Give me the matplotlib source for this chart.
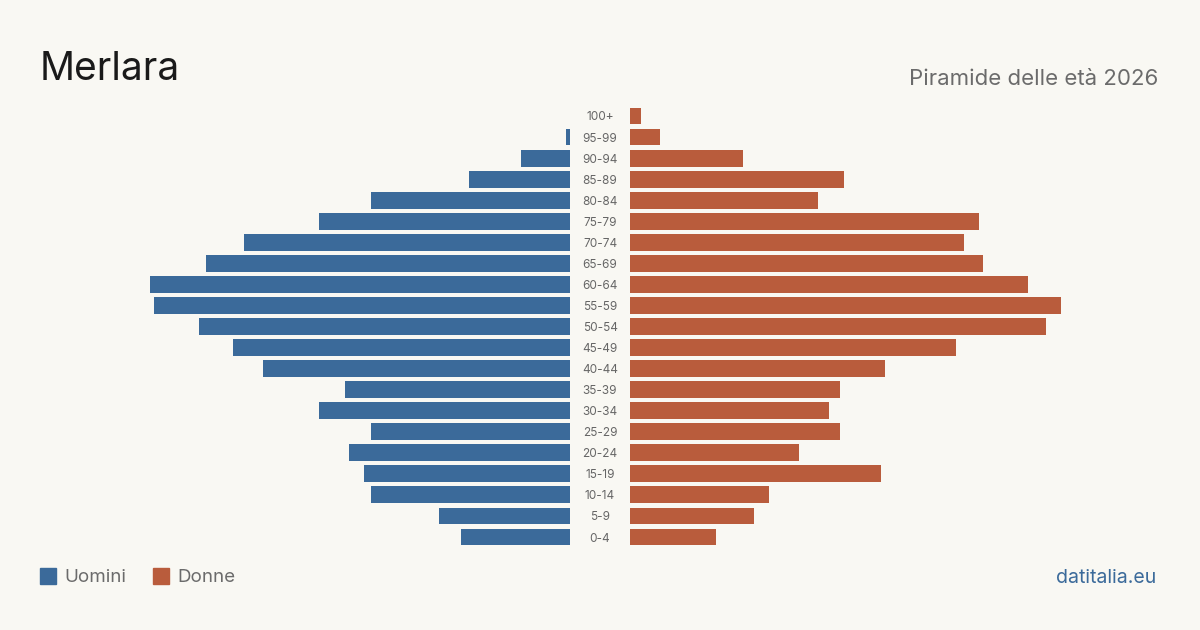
import matplotlib.pyplot as plt
import numpy as np

plt.rcParams['font.family'] = ['Inter', 'DejaVu Sans']

ages = ['0-4', '5-9', '10-14', '15-19', '20-24', '25-29', '30-34', '35-39',
        '40-44', '45-49', '50-54', '55-59', '60-64', '65-69', '70-74',
        '75-79', '80-84', '85-89', '90-94', '95-99', '100+']
uomini = [29, 35, 53, 55, 59, 53, 67, 60, 82, 90, 99, 111, 112, 97, 87,
          67, 53, 27, 13, 1, 0]
donne = [23, 33, 37, 67, 45, 56, 53, 56, 68, 87, 111, 115, 106, 94, 89,
         93, 50, 57, 30, 8, 3]

blue = '#3b6a9a'
orange = '#b95c3c'
bg = '#f9f8f3'

W, H = 1200, 630
fig = plt.figure(figsize=(12, 6.3), dpi=100, facecolor=bg)

px_per_unit = 3.75
y = np.arange(len(ages))
# rows: 0-4 centre at y=537, 100+ at y=116 (pixels from top)
top_px, bot_px = 116, 537
step = (bot_px - top_px) / (len(ages) - 1)
ax_bottom = 1 - (bot_px + step / 2) / H
ax_height = (step * len(ages)) / H

left_w = 530
axl = fig.add_axes([(570 - left_w) / W, ax_bottom, left_w / W, ax_height])
axr = fig.add_axes([630 / W, ax_bottom, left_w / W, ax_height])

for ax in (axl, axr):
    ax.set_facecolor(bg)
    ax.set_ylim(-0.5, len(ages) - 0.5)
    ax.set_xlim(0, left_w / px_per_unit)
    ax.axis('off')

axl.barh(y, uomini, height=0.8, color=blue)
axl.invert_xaxis()
axr.barh(y, donne, height=0.8, color=orange)

for i, a in enumerate(ages):
    fig.text(600 / W, 1 - (bot_px - i * step + 1.5) / H, a, ha='center',
             va='center', fontsize=8.5, color='#666666')

fig.text(40 / W, 1 - 69 / H, 'Merlara', fontsize=28, color='#1a1a1a',
         va='center', ha='left')
fig.text(1158 / W, 1 - 79 / H, 'Piramide delle età 2026', fontsize=16,
         color='#6b6b6b', va='center', ha='right')

fig.patches.append(plt.Rectangle((40 / W, 1 - 584 / H), 16 / W, 16 / H,
                                 transform=fig.transFigure, color=blue))
fig.text(64 / W, 1 - 578 / H, 'Uomini', fontsize=13.5, color='#6b6b6b',
         va='center', ha='left')
fig.patches.append(plt.Rectangle((153 / W, 1 - 584 / H), 16 / W, 16 / H,
                                 transform=fig.transFigure, color=orange))
fig.text(177 / W, 1 - 578 / H, 'Donne', fontsize=13.5, color='#6b6b6b',
         va='center', ha='left')
fig.text(1156 / W, 1 - 578 / H, 'datitalia.eu', fontsize=14, color=blue,
         va='center', ha='right')

fig.savefig('out.png', dpi=100, facecolor=bg)
